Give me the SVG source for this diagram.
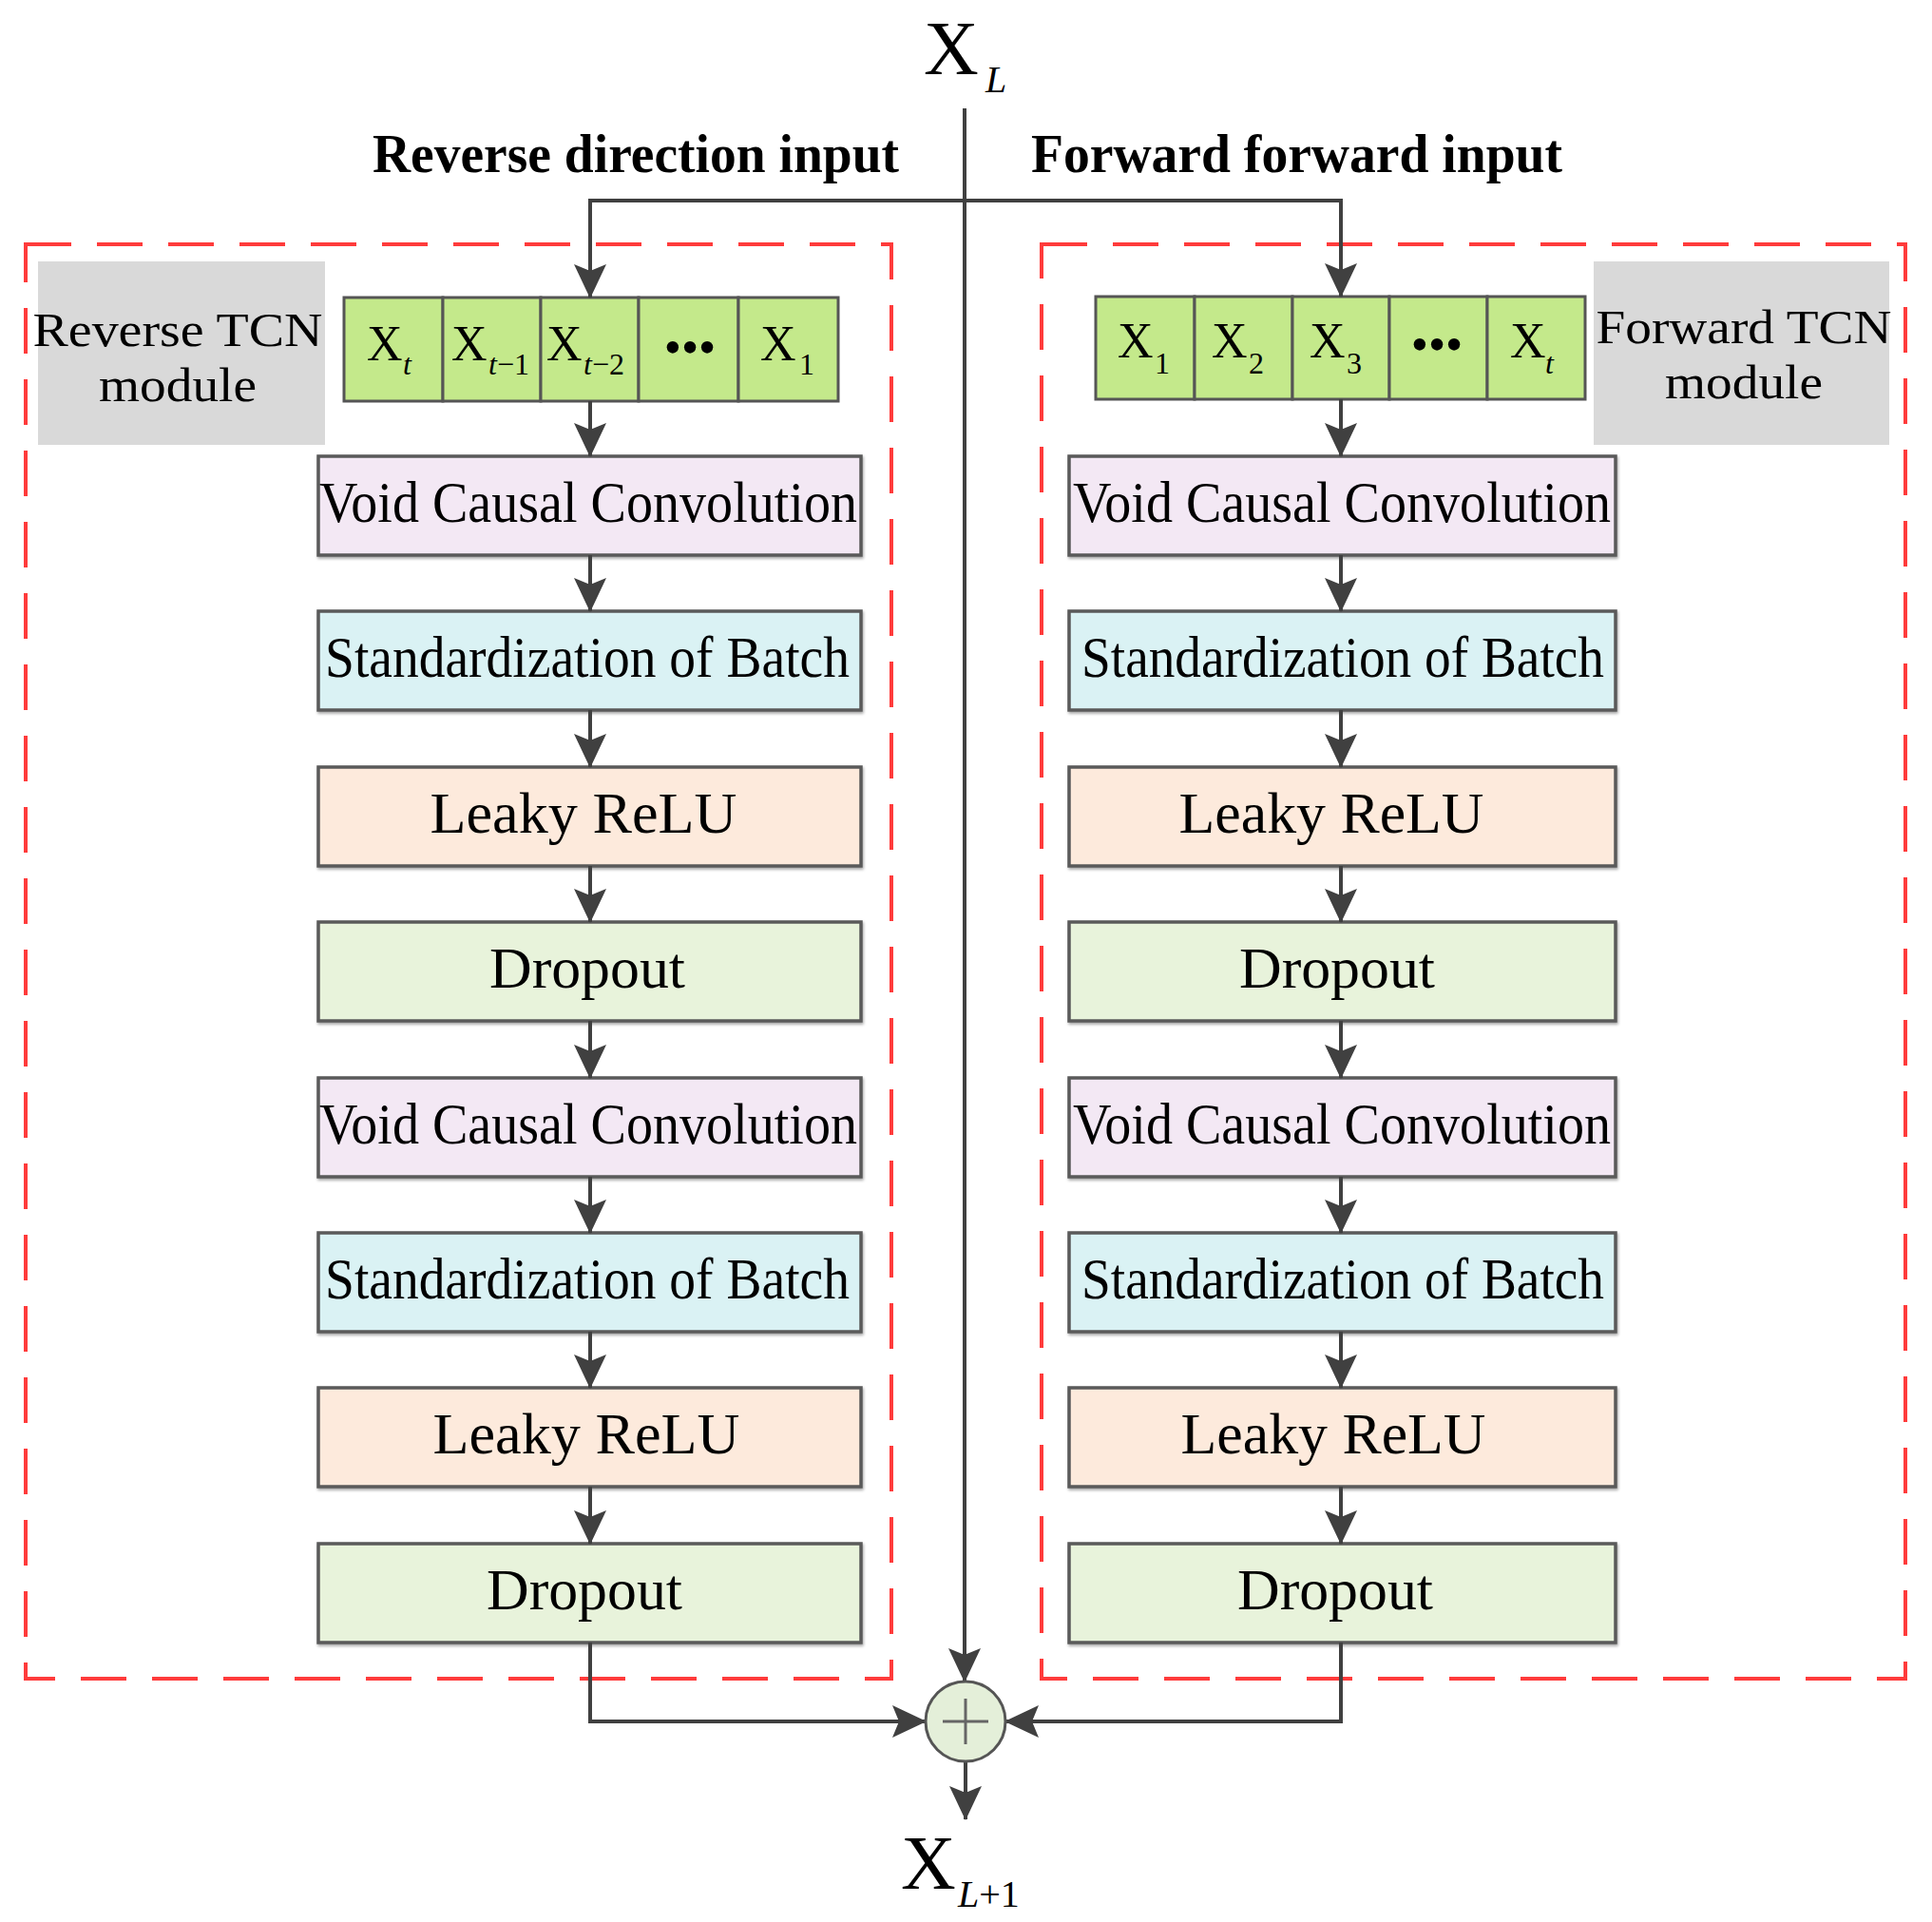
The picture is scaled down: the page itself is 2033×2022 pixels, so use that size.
<svg xmlns="http://www.w3.org/2000/svg" width="2033" height="2022" viewBox="0 0 2033 2022">
<defs>
<style>
.t{font-family:"Liberation Serif","Times New Roman",serif;fill:#000}
.bt{font-family:"Liberation Serif","Times New Roman",serif;font-size:62px;text-anchor:middle;fill:#000}
.title{font-family:"Liberation Serif","Times New Roman",serif;font-weight:bold;font-size:56px;fill:#000}
.box{stroke:#5a5a5a;stroke-width:3.5;filter:url(#sh)}
.vcc{fill:#F3E8F4}
.std{fill:#DAF2F4}
.lr{fill:#FDEADC}
.dp{fill:#E8F3DB}
.cell{fill:#C4E98B;stroke:#555;stroke-width:3}
.gray{fill:#D9D9D9}
.gl{font-family:"Liberation Serif","Times New Roman",serif;font-size:50px;text-anchor:middle;fill:#000}
.cx{font-family:"Liberation Serif","Times New Roman",serif;font-size:52px;fill:#000}
.sub{font-size:32px}
.it{font-style:italic}
.dash{fill:none;stroke:#FF3B3B;stroke-width:4;stroke-dasharray:48 27}
.con{fill:none;stroke:#404040;stroke-width:4;marker-end:url(#ah)}
</style>
<filter id="sh" x="-5%" y="-10%" width="110%" height="125%">
<feDropShadow dx="1" dy="2" stdDeviation="1.5" flood-color="#000" flood-opacity="0.35"/>
</filter>
<marker id="ah" viewBox="0 0 36 36" refX="35" refY="18" markerWidth="36" markerHeight="36" markerUnits="userSpaceOnUse" orient="auto">
<path d="M0,1 L36,18 L0,35 L7,18 z" fill="#404040"/>
</marker>
</defs>
<rect width="2033" height="2022" fill="#fff"/>

<g id="reverse-module-frame"><rect class="dash" x="27" y="257" width="911" height="1509"/></g>
<g id="forward-module-frame"><rect class="dash" x="1096" y="257" width="909" height="1509"/></g>

<g id="xl-label"><text class="t" x="972" y="78" font-size="80">X<tspan class="it" font-size="40" x="1037" y="97">L</tspan></text></g>
<g id="title-reverse"><text class="title" x="392" y="181" textLength="554" lengthAdjust="spacingAndGlyphs">Reverse direction input</text></g>
<g id="title-forward"><text class="title" x="1085" y="181" textLength="559" lengthAdjust="spacingAndGlyphs">Forward forward input</text></g>

<g id="label-reverse-tcn">
<rect class="gray" x="40" y="275" width="302" height="193"/>
<text class="gl" x="187" y="364" textLength="305" lengthAdjust="spacingAndGlyphs">Reverse TCN</text>
<text class="gl" x="187" y="422" textLength="166" lengthAdjust="spacingAndGlyphs">module</text>
</g>
<g id="label-forward-tcn">
<rect class="gray" x="1677" y="275" width="311" height="193"/>
<text class="gl" x="1835" y="361" textLength="311" lengthAdjust="spacingAndGlyphs">Forward TCN</text>
<text class="gl" x="1835" y="419" textLength="166" lengthAdjust="spacingAndGlyphs">module</text>
</g>

<g id="reverse-inputs">
<rect class="cell" x="362" y="313" width="104" height="109"/>
<rect class="cell" x="466" y="313" width="103" height="109"/>
<rect class="cell" x="569" y="313" width="103" height="109"/>
<rect class="cell" x="672" y="313" width="105" height="109"/>
<rect class="cell" x="777" y="313" width="105" height="109"/>
<text class="cx" x="386" y="379">X<tspan class="sub it" x="424" y="394">t</tspan></text>
<text class="cx" x="475" y="379">X<tspan class="sub" x="514" y="394"><tspan class="it">t</tspan>−1</tspan></text>
<text class="cx" x="575" y="379">X<tspan class="sub" x="614" y="394"><tspan class="it">t</tspan>−2</tspan></text>
<text class="cx" x="726" y="383" font-size="48" text-anchor="middle">•••</text>
<text class="cx" x="800" y="379">X<tspan class="sub" x="841" y="394">1</tspan></text>
</g>
<g id="forward-inputs">
<rect class="cell" x="1153" y="312" width="104" height="108"/>
<rect class="cell" x="1257" y="312" width="103" height="108"/>
<rect class="cell" x="1360" y="312" width="102" height="108"/>
<rect class="cell" x="1462" y="312" width="103" height="108"/>
<rect class="cell" x="1565" y="312" width="103" height="108"/>
<text class="cx" x="1176" y="376">X<tspan class="sub" x="1215" y="393">1</tspan></text>
<text class="cx" x="1275" y="376">X<tspan class="sub" x="1314" y="393">2</tspan></text>
<text class="cx" x="1378" y="376">X<tspan class="sub" x="1417" y="393">3</tspan></text>
<text class="cx" x="1512" y="380" font-size="48" text-anchor="middle">•••</text>
<text class="cx" x="1589" y="376">X<tspan class="sub it" x="1626" y="393">t</tspan></text>
</g>

<g id="rev-vcc1"><rect class="box vcc" x="335" y="480" width="571" height="104"/><text class="bt" x="619" y="549" textLength="566" lengthAdjust="spacingAndGlyphs">Void Causal Convolution</text></g>
<g id="rev-bn1"><rect class="box std" x="335" y="643" width="571" height="104"/><text class="bt" x="618" y="712" textLength="552" lengthAdjust="spacingAndGlyphs">Standardization of Batch</text></g>
<g id="rev-relu1"><rect class="box lr" x="335" y="807" width="571" height="104"/><text class="bt" x="614" y="876" textLength="323" lengthAdjust="spacingAndGlyphs">Leaky ReLU</text></g>
<g id="rev-drop1"><rect class="box dp" x="335" y="970" width="571" height="104"/><text class="bt" x="618" y="1039" textLength="206" lengthAdjust="spacingAndGlyphs">Dropout</text></g>
<g id="rev-vcc2"><rect class="box vcc" x="335" y="1134" width="571" height="104"/><text class="bt" x="619" y="1203" textLength="566" lengthAdjust="spacingAndGlyphs">Void Causal Convolution</text></g>
<g id="rev-bn2"><rect class="box std" x="335" y="1297" width="571" height="104"/><text class="bt" x="618" y="1366" textLength="552" lengthAdjust="spacingAndGlyphs">Standardization of Batch</text></g>
<g id="rev-relu2"><rect class="box lr" x="335" y="1460" width="571" height="104"/><text class="bt" x="617" y="1529" textLength="323" lengthAdjust="spacingAndGlyphs">Leaky ReLU</text></g>
<g id="rev-drop2"><rect class="box dp" x="335" y="1624" width="571" height="104"/><text class="bt" x="615" y="1693" textLength="206" lengthAdjust="spacingAndGlyphs">Dropout</text></g>

<g id="fwd-vcc1"><rect class="box vcc" x="1125" y="480" width="575" height="104"/><text class="bt" x="1412" y="549" textLength="566" lengthAdjust="spacingAndGlyphs">Void Causal Convolution</text></g>
<g id="fwd-bn1"><rect class="box std" x="1125" y="643" width="575" height="104"/><text class="bt" x="1413" y="712" textLength="550" lengthAdjust="spacingAndGlyphs">Standardization of Batch</text></g>
<g id="fwd-relu1"><rect class="box lr" x="1125" y="807" width="575" height="104"/><text class="bt" x="1401" y="876" textLength="321" lengthAdjust="spacingAndGlyphs">Leaky ReLU</text></g>
<g id="fwd-drop1"><rect class="box dp" x="1125" y="970" width="575" height="104"/><text class="bt" x="1407" y="1039" textLength="206" lengthAdjust="spacingAndGlyphs">Dropout</text></g>
<g id="fwd-vcc2"><rect class="box vcc" x="1125" y="1134" width="575" height="104"/><text class="bt" x="1412" y="1203" textLength="566" lengthAdjust="spacingAndGlyphs">Void Causal Convolution</text></g>
<g id="fwd-bn2"><rect class="box std" x="1125" y="1297" width="575" height="104"/><text class="bt" x="1413" y="1366" textLength="550" lengthAdjust="spacingAndGlyphs">Standardization of Batch</text></g>
<g id="fwd-relu2"><rect class="box lr" x="1125" y="1460" width="575" height="104"/><text class="bt" x="1403" y="1529" textLength="321" lengthAdjust="spacingAndGlyphs">Leaky ReLU</text></g>
<g id="fwd-drop2"><rect class="box dp" x="1125" y="1624" width="575" height="104"/><text class="bt" x="1405" y="1693" textLength="206" lengthAdjust="spacingAndGlyphs">Dropout</text></g>

<g id="connectors">
<path class="con" d="M1015,114 V1769"/>
<path class="con" d="M1015,211 H621 V313"/>
<path class="con" d="M1015,211 H1411 V312"/>
<path class="con" d="M621,422 V480"/>
<path class="con" d="M1411,420 V480"/>
<path class="con" d="M621,584 V643"/>
<path class="con" d="M621,747 V807"/>
<path class="con" d="M621,911 V970"/>
<path class="con" d="M621,1074 V1134"/>
<path class="con" d="M621,1238 V1297"/>
<path class="con" d="M621,1401 V1460"/>
<path class="con" d="M621,1564 V1624"/>
<path class="con" d="M1411,584 V643"/>
<path class="con" d="M1411,747 V807"/>
<path class="con" d="M1411,911 V970"/>
<path class="con" d="M1411,1074 V1134"/>
<path class="con" d="M1411,1238 V1297"/>
<path class="con" d="M1411,1401 V1460"/>
<path class="con" d="M1411,1564 V1624"/>
<path class="con" d="M621,1728 V1811 H974"/>
<path class="con" d="M1411,1728 V1811 H1058"/>
<path class="con" d="M1016,1853 V1914"/>
</g>

<g id="sum">
<circle cx="1016" cy="1811" r="42" fill="#E4EFD9" stroke="#555" stroke-width="3"/>
<path d="M992,1811 H1040 M1016,1787 V1835" stroke="#666" stroke-width="3" fill="none"/>
</g>

<g id="xl1-label"><text class="t" x="948" y="1987" font-size="80">X<tspan font-size="40" x="1008" y="2006"><tspan class="it">L</tspan>+1</tspan></text></g>
</svg>
